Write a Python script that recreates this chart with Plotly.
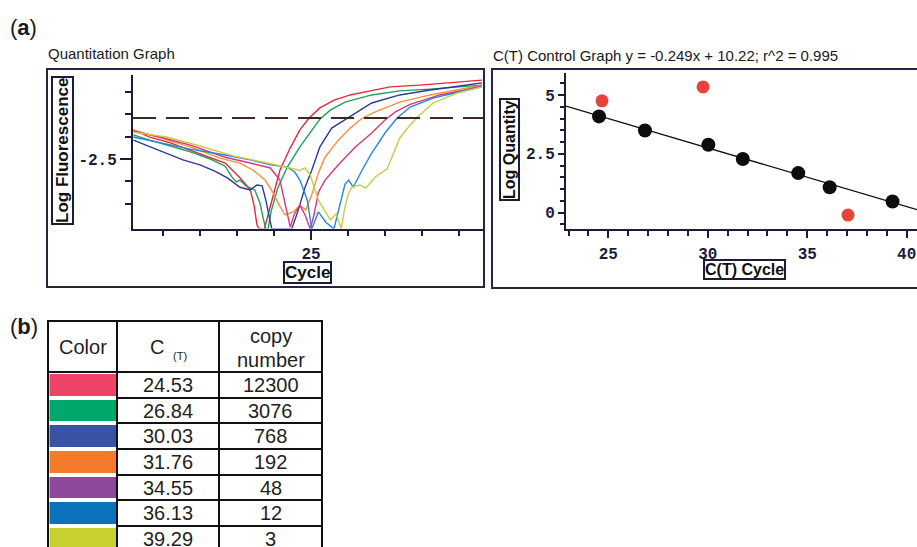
import math
import plotly.graph_objects as go

W, H = 917, 547


def px(x):
    return x / W


def py(y):
    return 1 - y / H


# ---------------- (a) left: amplification curves (cycle, log fluorescence) ----------------
red_x = [1.0, 3.2, 6.0, 8.7, 11.4, 13.4, 15.4, 16.8, 17.3, 17.7, 18.0, 18.7, 19.2, 19.9, 20.8, 22.2, 23.5, 24.7, 26.2, 28.2, 30.3, 33.0, 35.7, 39.7, 43.8, 48.1]
red_y = [-1.85, -2.01, -2.14, -2.30, -2.46, -2.59, -2.92, -3.19, -3.53, -3.97, -4.06, -4.06, -3.75, -3.30, -2.75, -2.25, -1.85, -1.59, -1.36, -1.18, -1.07, -0.98, -0.89, -0.85, -0.80, -0.74]

green_x = [1.0, 3.2, 6.0, 8.7, 11.4, 13.4, 14.3, 14.9, 15.4, 16.2, 17.4, 18.1, 18.5, 18.9, 19.2, 19.6, 20.5, 21.8, 23.5, 24.9, 26.2, 27.6, 29.6, 33.2, 37.0, 41.1, 45.1, 48.1]
green_y = [-1.96, -2.08, -2.21, -2.34, -2.50, -2.66, -2.90, -3.01, -2.97, -3.10, -3.19, -3.48, -3.79, -4.06, -4.06, -3.68, -3.15, -2.68, -2.23, -1.90, -1.61, -1.41, -1.23, -1.07, -0.98, -0.94, -0.89, -0.85]

blue_x = [1.0, 3.2, 5.5, 7.7, 10.0, 12.0, 13.7, 15.4, 16.8, 17.7, 18.4, 18.9, 19.7, 21.5, 22.4, 23.2, 24.2, 25.1, 26.2, 27.8, 29.9, 31.6, 33.2, 37.0, 41.1, 45.1, 48.1]
blue_y = [-2.08, -2.23, -2.37, -2.52, -2.63, -2.77, -2.92, -3.13, -3.19, -3.08, -3.10, -3.42, -4.06, -4.06, -4.06, -3.68, -3.13, -2.75, -2.23, -1.81, -1.59, -1.41, -1.25, -1.07, -0.96, -0.87, -0.80]

orange_x = [1.0, 4.6, 8.7, 12.7, 15.4, 17.2, 18.8, 19.9, 20.7, 21.5, 22.6, 23.5, 24.3, 25.1, 26.0, 26.9, 28.7, 30.3, 31.9, 33.7, 35.7, 37.0, 41.1, 45.1, 48.1]
orange_y = [-1.85, -2.03, -2.23, -2.48, -2.59, -2.75, -2.97, -3.26, -3.53, -3.75, -3.68, -3.53, -3.64, -3.30, -2.81, -2.46, -2.08, -1.81, -1.59, -1.45, -1.32, -1.23, -1.07, -0.94, -0.85]

magenta_x = [1.0, 4.6, 8.7, 13.4, 16.8, 19.5, 20.8, 21.6, 22.2, 22.7, 23.5, 24.2, 24.9, 25.4, 26.0, 26.9, 28.7, 31.0, 33.2, 35.0, 36.4, 38.4, 42.4, 45.8, 48.1]
magenta_y = [-1.88, -2.01, -2.19, -2.46, -2.59, -2.70, -2.97, -3.53, -4.02, -3.75, -3.53, -3.75, -4.06, -3.75, -3.24, -2.97, -2.63, -2.23, -1.92, -1.63, -1.45, -1.28, -1.07, -0.96, -0.87]

cyan_x = [1.0, 4.6, 8.7, 13.4, 16.8, 19.5, 21.8, 22.8, 23.5, 24.5, 25.1, 26.0, 27.0, 28.1, 28.7, 29.6, 30.1, 30.7, 31.9, 33.2, 35.0, 36.6, 38.4, 41.5, 46.1, 48.1]
cyan_y = [-2.01, -2.14, -2.28, -2.41, -2.52, -2.63, -2.68, -2.79, -2.97, -3.42, -4.06, -3.68, -3.91, -4.06, -3.64, -3.06, -2.97, -3.13, -2.75, -2.37, -1.92, -1.59, -1.34, -1.14, -0.96, -0.89]

yellow_x = [1.0, 3.2, 5.5, 10.0, 14.5, 19.1, 21.5, 23.5, 24.2, 24.9, 26.0, 26.9, 27.6, 28.4, 29.1, 29.5, 30.0, 30.5, 31.6, 32.4, 33.7, 35.3, 36.4, 37.0, 38.4, 39.7, 41.5, 44.7, 48.1]
yellow_y = [-1.90, -1.96, -2.01, -2.21, -2.43, -2.59, -2.68, -2.75, -2.70, -2.86, -3.42, -3.68, -3.86, -3.73, -4.06, -3.64, -3.30, -3.13, -3.08, -3.15, -2.90, -2.72, -2.30, -2.03, -1.74, -1.52, -1.25, -1.03, -0.89]

curve_colors = ["#e8283a", "#1fa05a", "#2c3c96", "#f7903c", "#d9357f", "#2488d8", "#c9cc40"]
threshold = -1.585

# ---------------- (a) right: standard curve ----------------
ct_values = [24.53, 26.84, 30.03, 31.76, 34.55, 36.13, 39.29]
copy_numbers = [12300, 3076, 768, 192, 48, 12, 3]
outlier_ct = [24.68, 29.76, 37.05]
outlier_logq = [4.75, 5.34, -0.10]
slope, intercept, r2 = -0.249, 10.22, 0.995
fit_x = [22.87, 40.52]

# ---------------- (b) table ----------------
table_colors = ["#ee4266", "#00a86b", "#3953a4", "#f47b2a", "#8d4a9c", "#0a73bc", "#c6d130"]

AX = "#1b1b3a"
TICKFONT = dict(family="Liberation Mono", size=16, color=AX, weight="bold")

fig = go.Figure()

curves = [(red_x, red_y), (green_x, green_y), (blue_x, blue_y), (orange_x, orange_y),
          (magenta_x, magenta_y), (cyan_x, cyan_y), (yellow_x, yellow_y)]
for (xs, ys), col in zip(curves, curve_colors):
    fig.add_trace(go.Scatter(x=xs, y=ys, mode="lines", line=dict(color=col, width=1.4),
                             xaxis="x", yaxis="y", showlegend=False, hoverinfo="skip"))

fig.add_shape(type="line", xref="x domain", yref="y", x0=0, x1=1, y0=threshold, y1=threshold,
              line=dict(color="#3b2a22", width=2, dash="23px,10px"))

# right chart
fit_y = [slope * x + intercept for x in fit_x]
fig.add_trace(go.Scatter(x=fit_x, y=fit_y, mode="lines", line=dict(color="#111111", width=1.3),
                         xaxis="x2", yaxis="y2", showlegend=False, hoverinfo="skip"))
fig.add_trace(go.Scatter(x=outlier_ct, y=outlier_logq, mode="markers",
                         marker=dict(color="#e8433a", size=13, line=dict(width=0)),
                         xaxis="x2", yaxis="y2", showlegend=False, hoverinfo="skip", cliponaxis=False))
fig.add_trace(go.Scatter(x=ct_values, y=[math.log10(c) for c in copy_numbers], mode="markers",
                         marker=dict(color="#0d0d0d", size=14, line=dict(width=0)),
                         xaxis="x2", yaxis="y2", showlegend=False, hoverinfo="skip", cliponaxis=False))

common = dict(showgrid=False, zeroline=False, showline=True, linecolor=AX, linewidth=2,
              ticks="outside", tickcolor=AX, tickwidth=2, tickfont=TICKFONT, fixedrange=True)

fig.update_layout(
    width=W, height=H, margin=dict(l=0, r=0, t=0, b=0),
    paper_bgcolor="white", plot_bgcolor="white", showlegend=False,
    xaxis=dict(domain=[px(133), px(483)], range=[0.95, 48.24], anchor="y",
               tickvals=[25], ticktext=["25"], ticklen=9, ticklabelstandoff=0,
               minor=dict(tickvals=[5, 10, 15, 20, 30, 35, 40, 45], ticklen=5, tickwidth=2,
                          tickcolor=AX, ticks="outside"),
               **common),
    yaxis=dict(domain=[py(228.5), py(75)], range=[-4.051, -0.625], anchor="x",
               tickvals=[-2.5], ticktext=["-2.5"], ticklen=11, ticklabelstandoff=0,
               minor=dict(tickvals=[-1.0, -1.5, -2.0, -3.0, -3.5], ticklen=6, tickwidth=2,
                          tickcolor=AX, ticks="outside"),
               **common),
    xaxis2=dict(domain=[px(566), 1.0], range=[22.87, 40.52], anchor="y2",
                tickvals=[25, 30, 35, 40], ticktext=["25", "30", "35", "40"], ticklen=7,
                ticklabelstandoff=1,
                minor=dict(tick0=0, dtick=1, ticklen=5, tickwidth=2, tickcolor=AX, ticks="outside"),
                **common),
    yaxis2=dict(domain=[py(229.3), py(73.3)], range=[-0.705, 5.92], anchor="x2",
                tickvals=[0, 2.5, 5], ticktext=["0", "2.5", "5"], ticklen=6, ticklabelstandoff=0,
                minor=dict(tick0=0, dtick=0.5, ticklen=4, tickwidth=2, tickcolor=AX, ticks="outside"),
                **common),
)

# frames around the two graphs
fig.add_shape(type="rect", xref="paper", yref="paper", x0=px(47), x1=px(484), y0=py(287), y1=py(69),
              line=dict(color="#26263e", width=2), layer="below")
fig.add_shape(type="rect", xref="paper", yref="paper", x0=px(492), x1=px(940), y0=py(288), y1=py(69),
              line=dict(color="#26263e", width=2), layer="below")

SANS = "Liberation Sans"
ann = []


def text(x, y, s, size, xanchor="center", yanchor="middle", color="#1a1a1a", **kw):
    ann.append(dict(x=px(x), y=py(y), xref="paper", yref="paper", text=s, showarrow=False,
                    xanchor=xanchor, yanchor=yanchor, font=dict(family=kw.pop("family", SANS), size=size,
                                                                color=color, weight=kw.pop("weight", "normal")),
                    **kw))


text(8, 27, "(<b>a</b>)", 22, xanchor="left")
text(8, 326, "(<b>b</b>)", 22, xanchor="left")
text(46, 54, "Quantitation Graph", 15, xanchor="left")
text(491, 55, f"C(T) Control Graph y = {slope}x + {intercept}; r^2 = {r2}", 15, xanchor="left")

text(63, 151, "Log Fluorescence", 17, weight="bold", textangle=-90, bordercolor=AX, borderwidth=2,
     borderpad=0, color="#111111")
text(307, 272.5, "Cycle", 17, weight="bold", bordercolor=AX, borderwidth=2, borderpad=0, color="#111111")
text(509.5, 149.5, "Log Quantity", 16, weight="bold", textangle=-90, bordercolor=AX, borderwidth=2,
     borderpad=0, color="#111111")
text(744, 269.5, "C(T) Cycle", 16, weight="bold", bordercolor=AX, borderwidth=2, borderpad=0, color="#111111")

# ---------------- table (b) ----------------
col_x = [48, 117, 219, 322]
row_y = [321, 372, 398, 423, 449, 475, 500, 526, 552]
TBL = "#111111"
for xv in col_x:
    fig.add_shape(type="line", xref="paper", yref="paper", x0=px(xv), x1=px(xv), y0=py(row_y[0]), y1=py(row_y[-1]),
                  line=dict(color=TBL, width=2))
for i, yv in enumerate(row_y):
    x0 = col_x[0] if i < 2 else col_x[1]
    fig.add_shape(type="line", xref="paper", yref="paper", x0=px(x0 - 1), x1=px(col_x[-1] + 1), y0=py(yv), y1=py(yv),
                  line=dict(color=TBL, width=2))
for i, col in enumerate(table_colors):
    y0, y1 = row_y[i + 1] + 2, row_y[i + 2] - 2
    fig.add_shape(type="rect", xref="paper", yref="paper", x0=px(col_x[0] + 1.5), x1=px(col_x[1] - 1),
                  y0=py(y1), y1=py(y0), fillcolor=col, line=dict(width=0))

TC = "#231f20"
text((col_x[0] + col_x[1]) / 2, 347, "Color", 20, color=TC)
text(156.5, 347, "C", 20, color=TC)
text(179.5, 356, "(T)", 11, color=TC)
text((col_x[2] + col_x[3]) / 2, 336, "copy", 20, color=TC)
text((col_x[2] + col_x[3]) / 2, 360, "number", 20, color=TC)
for i, (ct, cn) in enumerate(zip(ct_values, copy_numbers)):
    yc = (row_y[i + 1] + row_y[i + 2]) / 2
    text((col_x[1] + col_x[2]) / 2, yc, f"{ct:.2f}", 20, color=TC)
    text((col_x[2] + col_x[3]) / 2, yc, str(cn), 20, color=TC)

fig.update_layout(annotations=ann)
fig.write_html("out.html", config={"displayModeBar": False},
               post_script="document.body.style.margin='0px';document.body.style.overflow='hidden';")
